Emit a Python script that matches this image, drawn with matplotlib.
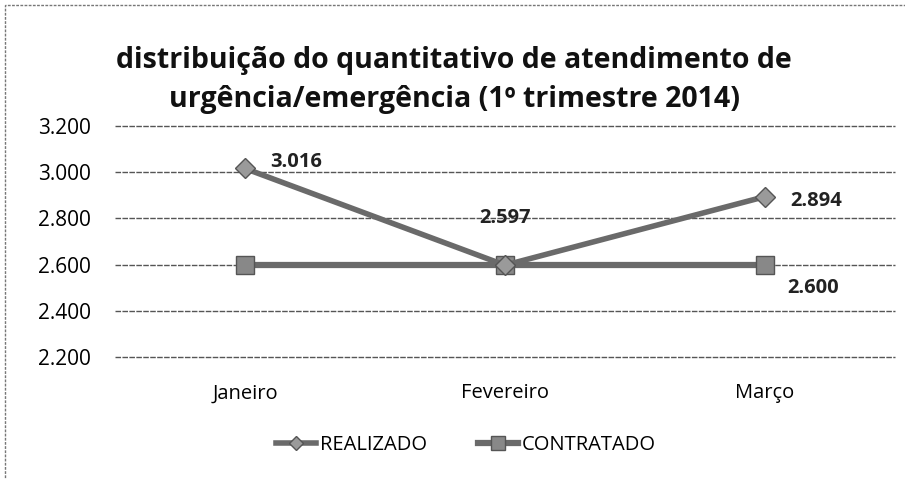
import matplotlib
matplotlib.use("Agg")
from matplotlib import pyplot as plt
from matplotlib.patches import Rectangle

meses = ["Janeiro", "Fevereiro", "Março"]
realizado = [3016, 2597, 2894]
contratado = [2600, 2600, 2600]
yticks = [2200, 2400, 2600, 2800, 3000, 3200]

def fmt(v):
    return "{:,}".format(v).replace(",", ".")

plt.rcParams['font.family'] = ['Open Sans', 'DejaVu Sans']

fig = plt.figure(figsize=(9.05, 4.79), dpi=100)
ax = fig.add_axes([0.127, 0.255, 0.862, 0.482])

x = range(len(meses))
cor = '#6a6a6a'
ax.plot(x, realizado, color=cor, lw=4, marker='D', ms=10, mfc='#9a9a9a', mec='#555555', label='REALIZADO', zorder=4)
ax.plot(x, contratado, color=cor, lw=4.5, marker='s', ms=13, mfc='#888888', mec='#555555', label='CONTRATADO', zorder=3)

# rotulos de dados
rot = dict(fontsize=14.5, fontweight='bold', color='#222222')
ax.annotate(fmt(realizado[0]), (0, realizado[0]), xytext=(18, 5), textcoords='offset points', va='center', **rot)
ax.annotate(fmt(realizado[1]), (1, realizado[1]), xytext=(0, 34), textcoords='offset points', ha='center', va='center', **rot)
ax.annotate(fmt(realizado[2]), (2, realizado[2]), xytext=(18, -3), textcoords='offset points', va='center', **rot)
ax.annotate(fmt(contratado[2]), (2, contratado[2]), xytext=(16, -17), textcoords='offset points', va='center', **rot)

ax.set_xlim(-0.5, 2.5)
ax.set_ylim(2200, 3200)
ax.set_yticks(yticks)
ax.set_yticklabels([fmt(v) for v in yticks], fontsize=15)
ax.set_xticks(list(x))
ax.set_xticklabels(meses, fontsize=14.5)
ax.tick_params(length=0)
ax.tick_params(axis='y', pad=17)
ax.tick_params(axis='x', pad=19)
ax.grid(axis='y', color='#555555', lw=1, ls=(0, (4, 1)))
for gl in ax.get_ygridlines():
    gl.set_clip_on(False)
ax.set_axisbelow(True)
for s in ax.spines.values():
    s.set_visible(False)

fig.text(0.502, 0.833, "distribuição do quantitativo de atendimento de\nurgência/emergência (1º trimestre 2014)",
         ha='center', va='center', fontsize=20.5, fontweight='bold', linespacing=1.45, color='#111111')

ax.legend(loc='center', bbox_to_anchor=(0.45, -0.38), ncol=2, frameon=False,
          fontsize=14.5, handlelength=2.0, columnspacing=2.5, handletextpad=0.2, markerscale=0.75)

fig.patches.append(Rectangle((0.006, -0.1), 1.1, 1.09, transform=fig.transFigure, fill=False,
                             ec='#777777', lw=1, ls=(0, (2, 1))))

fig.savefig("out.png", dpi=100)
